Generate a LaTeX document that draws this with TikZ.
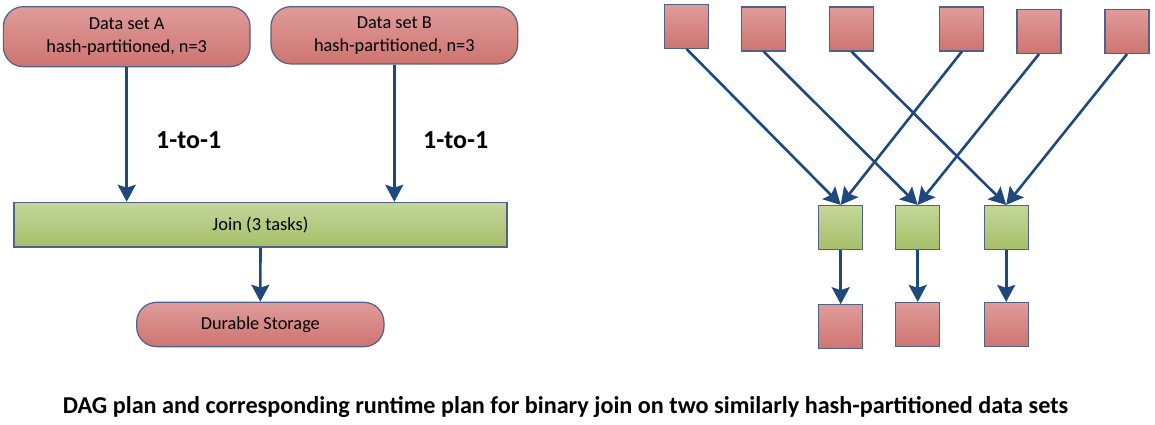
\documentclass[tikz,border=0pt]{standalone}
\usepackage{fontspec}
\setmainfont{Carlito}
\usetikzlibrary{arrows.meta,calc}
\definecolor{redtop}{RGB}{223,156,154}
\definecolor{redbot}{RGB}{206,116,112}
\definecolor{greentop}{RGB}{196,215,154}
\definecolor{greenbot}{RGB}{165,191,104}
\definecolor{edgeblue}{RGB}{78,98,138}
\definecolor{arrowblue}{RGB}{31,73,125}
\tikzset{
  redbox/.style={draw=edgeblue, line width=1.2pt, top color=redtop, bottom color=redbot, inner sep=0pt, align=center, font=\fontsize{18.3}{23}\selectfont},
  roundbox/.style={redbox, rounded corners=20pt},
  greenbox/.style={draw=edgeblue, line width=1.2pt, top color=greentop, bottom color=greenbot, inner sep=0pt, align=center, font=\fontsize{18.5}{23}\selectfont},
  sq/.style={minimum width=44pt, minimum height=44pt},
  flow/.style={draw=arrowblue, line width=2.6pt, -{Stealth[length=17pt,width=18pt,inset=3pt]}},
  lbl/.style={font=\fontsize{26}{30}\selectfont\bfseries}
}
\begin{document}
\begin{tikzpicture}[x=1pt,y=-1pt]
\useasboundingbox (0,0) rectangle (1155,424);
% left DAG
\node[roundbox, minimum width=246.7pt, minimum height=60pt] (A) at (126.7,36.7) {Data set A\\hash-partitioned, n=3};
\node[roundbox, minimum width=246.7pt, minimum height=57.3pt] (B) at (394.3,35.3) {Data set B\\hash-partitioned, n=3};
\node[greenbox, minimum width=493pt, minimum height=44.7pt] (J) at (260.5,224.7) {Join (3 tasks)};
\node[roundbox, minimum width=247.3pt, minimum height=44.4pt] (D) at (260.3,324.5) {Durable Storage};
\draw[flow] (A.south) -- (A.south |- J.north);
\draw[flow] (B.south) -- (B.south |- J.north);
\draw[flow] (J.south) -- (D.north);
\node[lbl] (L1) at (188.7,140) {1-to-1};
\node[lbl] (L2) at (455.7,140) {1-to-1};
% right runtime plan
\node[redbox, sq] (T1) at (686.5,26.3) {};
\node[redbox, sq] (T2) at (763.7,29) {};
\node[redbox, sq] (T3) at (851.5,29) {};
\node[redbox, sq] (T4) at (961.8,29) {};
\node[redbox, sq] (T5) at (1039,31.5) {};
\node[redbox, sq] (T6) at (1127,31.5) {};
\node[greenbox, sq] (G1) at (840.7,227.5) {};
\node[greenbox, sq] (G2) at (917.7,227.5) {};
\node[greenbox, sq] (G3) at (1006.2,227.5) {};
\node[redbox, sq] (B1) at (840.7,326.8) {};
\node[redbox, sq] (B2) at (917.7,324.5) {};
\node[redbox, sq] (B3) at (1006.2,324.5) {};
\draw[flow] (T1.south) -- (G1.north);
\draw[flow] (T4.south) -- (G1.north);
\draw[flow] (T2.south) -- (G2.north);
\draw[flow] (T5.south) -- (G2.north);
\draw[flow] (T3.south) -- (G3.north);
\draw[flow] (T6.south) -- (G3.north);
\draw[flow] (G1.south) -- (B1.north);
\draw[flow] (G2.south) -- (B2.north);
\draw[flow] (G3.south) -- (B3.north);
% caption
\node[font=\fontsize{24.2}{28}\selectfont\bfseries] (cap) at (565.5,407) {DAG plan and corresponding runtime plan for binary join on two similarly hash-partitioned data sets};
\end{tikzpicture}
\end{document}
